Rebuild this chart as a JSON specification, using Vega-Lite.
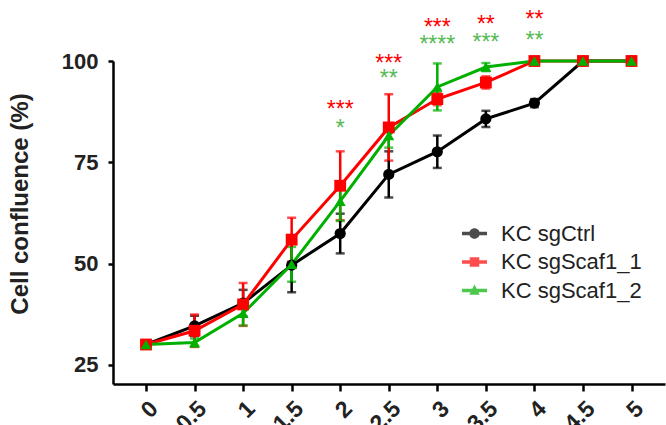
{
  "$schema": "https://vega.github.io/schema/vega-lite/v6.json",
  "width": 552,
  "height": 323,
  "autosize": {"type": "none"},
  "padding": {"left": 113, "top": 61, "right": 1, "bottom": 41},
  "background": "white",
  "config": {"view": {"stroke": null}, "font": "Liberation Sans"},
  "datasets": {
    "series": [
      {"t": 0, "g": "KC sgCtrl", "v": 30, "e": 0.5},
      {"t": 0.5, "g": "KC sgCtrl", "v": 34.6, "e": 2.5},
      {"t": 1, "g": "KC sgCtrl", "v": 40.2, "e": 3.3},
      {"t": 1.5, "g": "KC sgCtrl", "v": 49.6, "e": 6.7},
      {"t": 2, "g": "KC sgCtrl", "v": 57.4, "e": 4.9},
      {"t": 2.5, "g": "KC sgCtrl", "v": 72.0, "e": 5.7},
      {"t": 3, "g": "KC sgCtrl", "v": 77.6, "e": 4.0},
      {"t": 3.5, "g": "KC sgCtrl", "v": 85.7, "e": 2.0},
      {"t": 4, "g": "KC sgCtrl", "v": 89.6, "e": 1.0},
      {"t": 4.5, "g": "KC sgCtrl", "v": 100, "e": 0},
      {"t": 5, "g": "KC sgCtrl", "v": 100, "e": 0},
      {"t": 0, "g": "KC sgScaf1_1", "v": 30, "e": 0.5},
      {"t": 0.5, "g": "KC sgScaf1_1", "v": 33.4, "e": 4.0},
      {"t": 1, "g": "KC sgScaf1_1", "v": 39.9, "e": 5.3},
      {"t": 1.5, "g": "KC sgScaf1_1", "v": 55.9, "e": 5.4},
      {"t": 2, "g": "KC sgScaf1_1", "v": 69.2, "e": 8.5},
      {"t": 2.5, "g": "KC sgScaf1_1", "v": 83.6, "e": 8.2},
      {"t": 3, "g": "KC sgScaf1_1", "v": 90.6, "e": 1.5},
      {"t": 3.5, "g": "KC sgScaf1_1", "v": 94.7, "e": 1.5},
      {"t": 4, "g": "KC sgScaf1_1", "v": 100, "e": 0},
      {"t": 4.5, "g": "KC sgScaf1_1", "v": 100, "e": 0},
      {"t": 5, "g": "KC sgScaf1_1", "v": 100, "e": 0},
      {"t": 0, "g": "KC sgScaf1_2", "v": 30, "e": 0.3},
      {"t": 0.5, "g": "KC sgScaf1_2", "v": 30.5, "e": 1.0},
      {"t": 1, "g": "KC sgScaf1_2", "v": 37.7, "e": 3.0},
      {"t": 1.5, "g": "KC sgScaf1_2", "v": 49.8, "e": 4.3},
      {"t": 2, "g": "KC sgScaf1_2", "v": 65.4, "e": 4.9},
      {"t": 2.5, "g": "KC sgScaf1_2", "v": 81.6, "e": 3.0},
      {"t": 3, "g": "KC sgScaf1_2", "v": 93.6, "e": 5.8},
      {"t": 3.5, "g": "KC sgScaf1_2", "v": 98.5, "e": 1.0},
      {"t": 4, "g": "KC sgScaf1_2", "v": 100, "e": 0},
      {"t": 4.5, "g": "KC sgScaf1_2", "v": 100, "e": 0},
      {"t": 5, "g": "KC sgScaf1_2", "v": 100, "e": 0}
    ],
    "stars": [
      {"t": 2, "ys": 89.2, "label": "***", "cmp": "KC sgScaf1_1"},
      {"t": 2, "ys": 84.5, "label": "*", "cmp": "KC sgScaf1_2"},
      {"t": 2.5, "ys": 100.6, "label": "***", "cmp": "KC sgScaf1_1"},
      {"t": 2.5, "ys": 96.7, "label": "**", "cmp": "KC sgScaf1_2"},
      {"t": 3, "ys": 109.4, "label": "***", "cmp": "KC sgScaf1_1"},
      {"t": 3, "ys": 105.2, "label": "****", "cmp": "KC sgScaf1_2"},
      {"t": 3.5, "ys": 110.0, "label": "**", "cmp": "KC sgScaf1_1"},
      {"t": 3.5, "ys": 105.7, "label": "***", "cmp": "KC sgScaf1_2"},
      {"t": 4, "ys": 111.3, "label": "**", "cmp": "KC sgScaf1_1"},
      {"t": 4, "ys": 106.2, "label": "**", "cmp": "KC sgScaf1_2"}
    ]
  },
  "encoding": {
    "x": {
      "field": "t", "type": "quantitative",
      "scale": {"domain": [-0.34, 5.345], "nice": false, "zero": false},
      "axis": {
        "title": null, "values": [0, 0.5, 1, 1.5, 2, 2.5, 3, 3.5, 4, 4.5, 5], "format": "~g",
        "grid": false, "labelAngle": -45, "labelFontSize": 23, "labelFontWeight": "bold",
        "labelColor": "#222222", "labelFont": "Liberation Sans", "labelFlush": false, "labelOverlap": false,
        "tickSize": 7, "tickWidth": 2.5, "tickColor": "#000000",
        "domainWidth": 2.5, "domainColor": "#000000", "labelPadding": 6
      }
    },
    "y": {
      "field": "v", "type": "quantitative",
      "scale": {"domain": [20.25, 100], "nice": false, "zero": false},
      "axis": {
        "title": "Cell confluence (%)", "values": [25, 50, 75, 100], "grid": false,
        "labelFontSize": 22, "labelFontWeight": "bold", "labelColor": "#222222", "labelFont": "Liberation Sans",
        "labelFlush": false, "labelPadding": 10,
        "tickSize": 5, "tickWidth": 2.5, "tickColor": "#000000",
        "domainWidth": 2.5, "domainColor": "#000000",
        "titleFontSize": 24, "titleFontWeight": "bold", "titleColor": "#222222", "titleFont": "Liberation Sans",
        "titleX": -86, "titleY": 142.5, "titleBaseline": "alphabetic", "titleAngle": 270, "titleAlign": "center"
      }
    }
  },
  "layer": [
    {
      "data": {"name": "series"},
      "transform": [{"filter": "datum.e > 0"}],
      "mark": {"type": "errorbar", "thickness": 2.5, "ticks": {"size": 9, "thickness": 2.5}, "rule": {"strokeWidth": 2.5}},
      "encoding": {
        "yError": {"field": "e"},
        "color": {
          "field": "g", "type": "nominal",
          "scale": {"domain": ["KC sgCtrl", "KC sgScaf1_1", "KC sgScaf1_2"], "range": ["#000000", "#ff0000", "#00b000"]}
        }
      }
    },
    {
      "data": {"name": "series"},
      "mark": {"type": "line", "strokeWidth": 3},
      "encoding": {
        "color": {"field": "g", "type": "nominal"}
      }
    },
    {
      "data": {"name": "series"},
      "transform": [{"filter": "datum.g === 'KC sgCtrl'"}],
      "mark": {"type": "point", "filled": true, "opacity": 1, "size": 125, "shape": "circle"},
      "encoding": {"color": {"field": "g", "type": "nominal"}}
    },
    {
      "data": {"name": "series"},
      "transform": [{"filter": "datum.g === 'KC sgScaf1_1'"}],
      "mark": {"type": "point", "filled": true, "opacity": 1, "size": 140, "shape": "square"},
      "encoding": {"color": {"field": "g", "type": "nominal"}}
    },
    {
      "data": {"name": "series"},
      "transform": [{"filter": "datum.g === 'KC sgScaf1_2'"}],
      "mark": {"type": "point", "filled": true, "opacity": 1, "size": 120, "shape": "triangle-up"},
      "encoding": {"color": {"field": "g", "type": "nominal"}}
    },
    {
      "data": {"name": "stars"},
      "transform": [{"filter": "datum.cmp === 'KC sgScaf1_1'"}],
      "mark": {"type": "text", "color": "#ff0000", "fontSize": 23, "align": "center", "baseline": "middle", "dy": 5, "font": "Liberation Sans"},
      "encoding": {
        "y": {"field": "ys", "type": "quantitative"},
        "text": {"field": "label"}
      }
    },
    {
      "data": {"name": "stars"},
      "transform": [{"filter": "datum.cmp === 'KC sgScaf1_2'"}],
      "mark": {"type": "text", "color": "#55bb55", "fontSize": 23, "align": "center", "baseline": "middle", "dy": 5, "font": "Liberation Sans"},
      "encoding": {
        "y": {"field": "ys", "type": "quantitative"},
        "text": {"field": "label"}
      }
    },
    {
      "data": {"name": "series"},
      "transform": [{"filter": "datum.t === 0"}],
      "mark": {"type": "point", "filled": true, "opacity": 0},
      "encoding": {
        "color": {
          "field": "g", "type": "nominal",
          "legend": {
            "title": null, "orient": "none", "legendX": 349, "legendY": 160,
            "symbolSize": 625, "labelFontSize": 22, "labelColor": "#222222", "labelFont": "Liberation Sans",
            "labelOffset": 14, "rowPadding": 4.5, "padding": 0, "symbolOpacity": 1, "symbolStrokeWidth": 0
          }
        },
        "shape": {
          "field": "g", "type": "nominal",
          "scale": {
            "domain": ["KC sgCtrl", "KC sgScaf1_1", "KC sgScaf1_2"],
            "range": [
              "M-1,-0.14H1V0.14H-1Z M0.42,0A0.42,0.42,0,1,1,-0.42,0A0.42,0.42,0,1,1,0.42,0Z",
              "M-1,-0.14H1V0.14H-1Z M-0.38,-0.38H0.38V0.38H-0.38Z",
              "M-1,-0.14H1V0.14H-1Z M0,-0.48L0.42,0.34H-0.42Z"
            ]
          },
          "legend": {
            "title": null, "orient": "none", "legendX": 349, "legendY": 160,
            "symbolSize": 625, "labelFontSize": 22, "labelColor": "#222222", "labelFont": "Liberation Sans",
            "labelOffset": 14, "rowPadding": 4.5, "padding": 0, "symbolOpacity": 1, "symbolStrokeWidth": 0
          }
        }
      }
    }
  ]
}
